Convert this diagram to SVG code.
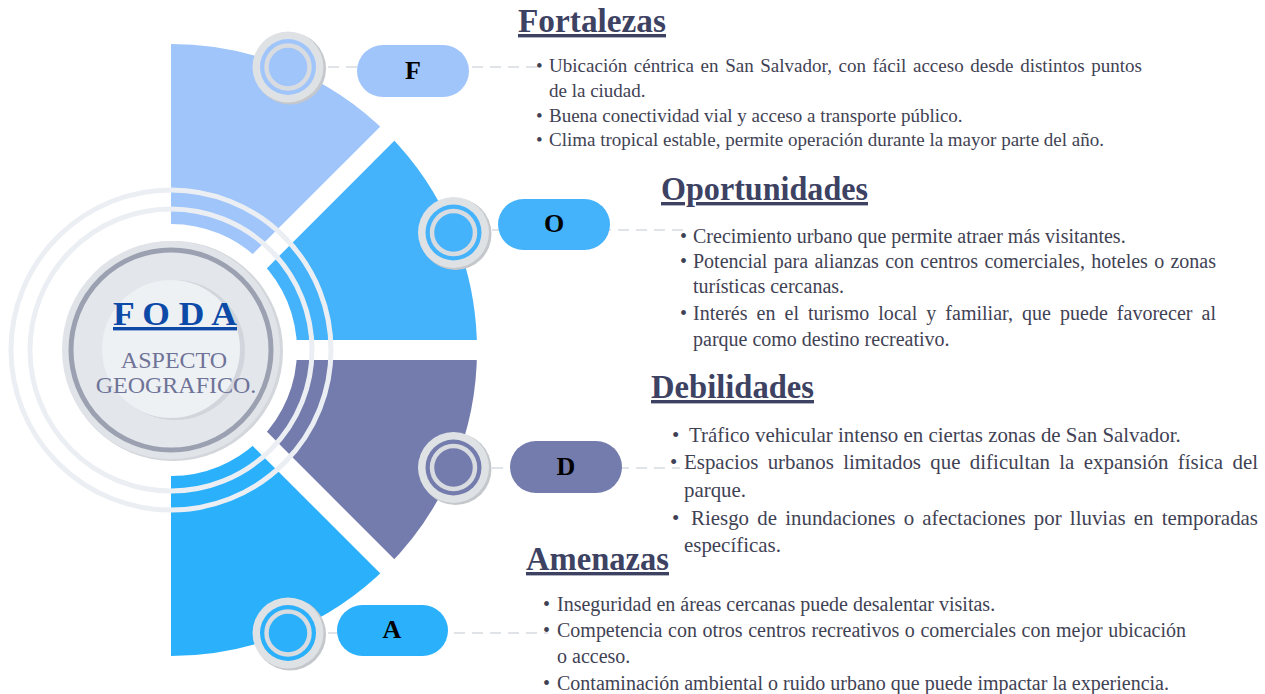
<svg xmlns="http://www.w3.org/2000/svg" width="1265" height="694" viewBox="0 0 1265 694">
<style>
.h{font-family:"Liberation Serif","Times New Roman",serif;font-weight:bold;font-size:34px;fill:#3d4263;text-decoration:underline;}
.b{font-family:"Liberation Serif","Times New Roman",serif;fill:#3f4254;}
.s19{font-size:19px;}.s20{font-size:20px;}.s21{font-size:20.9px;}
.lt{font-family:"Liberation Serif","Times New Roman",serif;font-weight:bold;font-size:26px;fill:#000;text-anchor:middle;}
.gap{stroke:#fff;stroke-width:20;fill:none;}
.ring{stroke:#ebeff3;stroke-width:5;fill:none;}
.con{stroke:#d6dadf;stroke-width:1.6;stroke-dasharray:11 7;fill:none;}
.sh{fill:#c4c7cb;}
.og{fill:#dfe2e5;}
.ig{stroke:#d8dbdf;stroke-width:4.5;fill:none;}
.cF{fill:#a0c5fa;}.cO{fill:#45b3fb;}.cD{fill:#737cad;}.cA{fill:#2bb0fc;}
</style>
<rect width="1265" height="694" fill="#fff"/>
<g id="fan">
<path class="cF" d="M171,44 A306,306 0 0 1 387.4,133.6 L260.1,260.9 A126,126 0 0 0 171,224 Z"/>
<path class="cO" d="M387.4,133.6 A306,306 0 0 1 477,350 L297,350 A126,126 0 0 0 260.1,260.9 Z"/>
<path class="cD" d="M477,350 A306,306 0 0 1 387.4,566.4 L260.1,439.1 A126,126 0 0 0 297,350 Z"/>
<path class="cA" d="M387.4,566.4 A306,306 0 0 1 171,656 L171,476 A126,126 0 0 0 260.1,439.1 Z"/>
<line class="gap" x1="171" y1="350" x2="420" y2="101"/>
<line class="gap" x1="171" y1="350" x2="500" y2="350"/>
<line class="gap" x1="171" y1="350" x2="420" y2="599"/>
<circle class="ring" cx="171" cy="350" r="141"/>
<circle class="ring" cx="171" cy="350" r="160"/>
</g>
<g id="center-node">
<circle cx="173" cy="351" r="110" fill="#d3d7dc"/>
<circle cx="171" cy="350" r="109" fill="#e0e4e8"/>
<circle cx="171" cy="350" r="100" fill="#e3e7eb" stroke="#9ca1b2" stroke-width="5"/>
<circle cx="175" cy="350" r="70" fill="#d2d6dc"/>
<circle cx="171" cy="349" r="69" fill="#eef1f4"/>
<text x="175" y="325" text-anchor="middle" textLength="124" lengthAdjust="spacingAndGlyphs" style="font-family:'Liberation Serif','Times New Roman',serif;font-weight:bold;font-size:34px;fill:#0d4aa8;text-decoration:underline;">F O D A</text>
<text x="174" y="368" text-anchor="middle" style="font-family:'Liberation Serif','Times New Roman',serif;font-size:24px;fill:#6f7398;">ASPECTO</text>
<text x="176" y="393" text-anchor="middle" style="font-family:'Liberation Serif','Times New Roman',serif;font-size:24px;fill:#6f7398;">GEOGRAFICO.</text>
</g>
<g id="connectors">
<line class="con" x1="328" y1="67" x2="540" y2="67"/>
<line class="con" x1="492" y1="230" x2="688" y2="230"/>
<line class="con" x1="492" y1="468" x2="680" y2="468"/>
<line class="con" x1="328" y1="633" x2="548" y2="633"/>
</g>
<g id="node-F">
<circle class="sh" cx="290" cy="68.5" r="36"/>
<circle class="og" cx="288" cy="67" r="35.5"/>
<circle class="cF" cx="288" cy="67" r="28"/>
<circle class="ig" cx="288" cy="67" r="21.5"/>
<rect class="cF" x="357" y="45" width="112" height="52" rx="26"/>
<text class="lt" x="413" y="79">F</text>
<text class="h" x="518" y="32" textLength="148" lengthAdjust="spacingAndGlyphs">Fortalezas</text>
<text class="b s19" x="536" y="72">•</text>
<text class="b s19" x="549" y="72" word-spacing="1.8" textLength="593" lengthAdjust="spacing">Ubicación céntrica en San Salvador, con fácil acceso desde distintos puntos</text>
<text class="b s19" x="549" y="97">de la ciudad.</text>
<text class="b s19" x="536" y="122">•</text>
<text class="b s19" x="549" y="122">Buena conectividad vial y acceso a transporte público.</text>
<text class="b s19" x="536" y="146">•</text>
<text class="b s19" x="549" y="146">Clima tropical estable, permite operación durante la mayor parte del año.</text>
</g>
<g id="node-O">
<circle class="sh" cx="455.5" cy="234" r="36"/>
<circle class="og" cx="453.5" cy="232.5" r="35.5"/>
<circle class="cO" cx="453.5" cy="232.5" r="28"/>
<circle class="ig" cx="453.5" cy="232.5" r="21.5"/>
<rect class="cO" x="498" y="199" width="112" height="51" rx="25.5"/>
<text class="lt" x="554" y="232">O</text>
<text class="h" x="661" y="200" textLength="207" lengthAdjust="spacingAndGlyphs">Oportunidades</text>
<text class="b s20" x="680" y="243">•</text>
<text class="b s20" x="693" y="243">Crecimiento urbano que permite atraer más visitantes.</text>
<text class="b s20" x="680" y="268">•</text>
<text class="b s20" x="693" y="268" word-spacing="1.3" textLength="523" lengthAdjust="spacing">Potencial para alianzas con centros comerciales, hoteles o zonas</text>
<text class="b s20" x="693" y="293">turísticas cercanas.</text>
<text class="b s20" x="680" y="320">•</text>
<text class="b s20" x="693" y="320" word-spacing="4" textLength="523" lengthAdjust="spacing">Interés en el turismo local y familiar, que puede favorecer al</text>
<text class="b s20" x="693" y="346">parque como destino recreativo.</text>
</g>
<g id="node-D">
<circle class="sh" cx="455.5" cy="469" r="36"/>
<circle class="og" cx="453.5" cy="467.5" r="35.5"/>
<circle class="cD" cx="453.5" cy="467.5" r="28"/>
<circle class="ig" cx="453.5" cy="467.5" r="21.5"/>
<rect class="cD" x="510" y="441" width="112" height="52" rx="26"/>
<text class="lt" x="566" y="475">D</text>
<text class="h" x="651" y="398" textLength="163" lengthAdjust="spacingAndGlyphs">Debilidades</text>
<text class="b s21" x="672" y="442">•</text>
<text class="b s21" x="689" y="442">Tráfico vehicular intenso en ciertas zonas de San Salvador.</text>
<text class="b s21" x="670" y="469">•</text>
<text class="b s21" x="684" y="469" word-spacing="4.1" textLength="574" lengthAdjust="spacing">Espacios urbanos limitados que dificultan la expansión física del</text>
<text class="b s21" x="684" y="497">parque.</text>
<text class="b s21" x="672" y="525">•</text>
<text class="b s21" x="691" y="525" word-spacing="3" textLength="567" lengthAdjust="spacing">Riesgo de inundaciones o afectaciones por lluvias en temporadas</text>
<text class="b s21" x="684" y="552">específicas.</text>
</g>
<g id="node-A">
<circle class="sh" cx="290" cy="634.5" r="36"/>
<circle class="og" cx="288" cy="633" r="35.5"/>
<circle class="cA" cx="288" cy="633" r="28"/>
<circle class="ig" cx="288" cy="633" r="21.5"/>
<rect class="cA" x="337" y="605" width="111" height="51" rx="25.5"/>
<text class="lt" x="392" y="638">A</text>
<text class="h" x="526" y="570" textLength="143" lengthAdjust="spacingAndGlyphs">Amenazas</text>
<text class="b s20" x="543" y="611">•</text>
<text class="b s20" x="557" y="611">Inseguridad en áreas cercanas puede desalentar visitas.</text>
<text class="b s20" x="543" y="637">•</text>
<text class="b s20" x="557" y="637" word-spacing="0.6" textLength="629" lengthAdjust="spacing">Competencia con otros centros recreativos o comerciales con mejor ubicación</text>
<text class="b s20" x="557" y="663">o acceso.</text>
<text class="b s20" x="543" y="690">•</text>
<text class="b s20" x="557" y="690">Contaminación ambiental o ruido urbano que puede impactar la experiencia.</text>
</g>
</svg>
